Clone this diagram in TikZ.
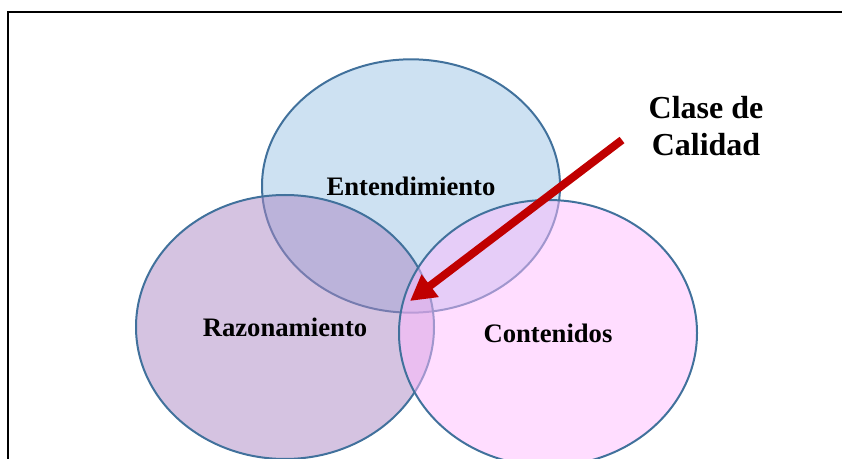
\documentclass[tikz,border=0pt]{standalone}
\usepackage{fontspec}
\setmainfont{Liberation Serif}
\usetikzlibrary{shapes, arrows.meta, positioning}
\definecolor{edgeblue}{RGB}{65,113,156}
\definecolor{topfill}{RGB}{205,225,242}
\definecolor{leftfill}{RGB}{171,135,195}
\definecolor{rightfill}{RGB}{255,187,255}
\definecolor{arrowred}{RGB}{192,0,0}
\tikzstyle{area} = [ellipse, draw=edgeblue, line width=1.5pt, minimum width=223.5pt, minimum height=198pt, inner sep=0pt, font=\fontsize{20}{24}\selectfont\bfseries]
\tikzstyle{see} = [fill opacity=0.5, text opacity=1]
\tikzstyle{tag} = [align=center, font=\fontsize{24}{28}\selectfont\bfseries]
\tikzstyle{pointer} = [-{Triangle[length=19pt, width=20pt]}, line width=6pt, draw=arrowred]

\begin{document}
\begin{tikzpicture}[x=0.75pt, y=-0.75pt]
  \useasboundingbox (0,0) rectangle (842,459);
  % marco
  \draw[line width=2.2pt] (8,460) -- (8,12) -- (843,12);

  % circulos
  \node[area, fill=topfill, minimum height=190pt] (ent) at (411,186) {Entendimiento};
  \node[area, see, fill=leftfill] (raz) at (285,327) {Razonamiento};
  \node[area, see, fill=rightfill, minimum height=199.5pt] (con) at (548,333) {Contenidos};

  % clase de calidad
  \node[tag] (cal) at (706,126) {Clase de\\Calidad};
  \coordinate (tail) at (622,140);
  \coordinate (tip) at (410,301);
  \draw[pointer] (tail) -- (tip);
\end{tikzpicture}
\end{document}
